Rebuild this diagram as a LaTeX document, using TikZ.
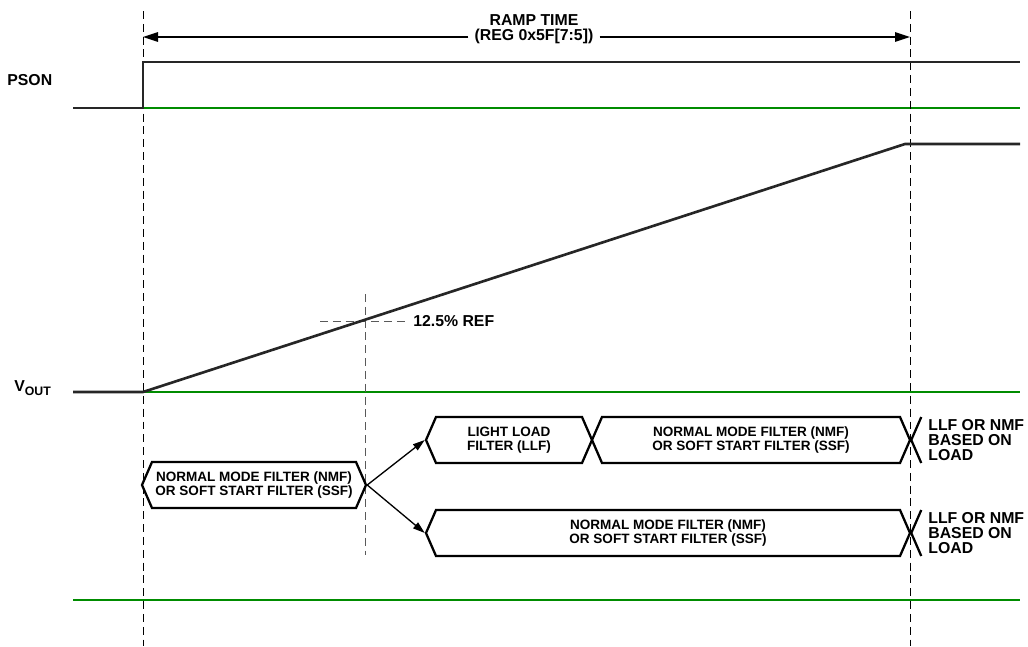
\documentclass[tikz,border=0pt]{standalone}
\usepackage{fontspec}
\setmainfont{Liberation Sans}
\usetikzlibrary{arrows.meta,shapes.symbols}

\begin{document}
\begin{tikzpicture}[x=0.2mm, y=-0.2mm,
  every node/.style={font=\bfseries\fontsize{9}{8.6}\selectfont},
  wave/.style={line width=1.5pt, black!85},
  base/.style={line width=0.6pt, green!55!black},
  guide/.style={dash pattern=on 4.5pt off 2.8pt, line width=0.55pt},
  filt/.style={signal, signal to=west and east, signal pointer angle=133, draw, line width=1.3pt, minimum height=9.2mm, inner sep=0pt, align=center, font=\bfseries\fontsize{7.7}{8.2}\selectfont},
  rarr/.style={-{Triangle[length=3mm,width=1.9mm]}, line width=0.8pt},
  tarr/.style={-{Triangle[length=2.4mm,width=1.5mm]}, line width=0.75pt}]
\useasboundingbox (0,0) rectangle (1028,646);

\draw[base] (73,108) -- (1020,108);
\draw[base] (73,392) -- (1020,392);
\draw[base] (73,600) -- (1020,600);

\draw[guide] (143,11) -- (143,646);
\draw[guide] (910,11) -- (910,646);
\draw[guide, black!65] (365,294) -- (365,555);
\draw[guide, black!65] (320,321) -- (407,321);

\draw[wave] (73,108) -- (143,108) -- (143,62) -- (1020,62);
\draw[wave] (73,392) -- (143,392) -- (905,144) -- (1020,144);

\node[anchor=west, inner xsep=0pt] (P) at (7,80) {PSON};
\node[anchor=west, inner xsep=0pt] (V) at (14,388) {V\raisebox{-2pt}{\fontsize{7}{7}\selectfont OUT}};
\node[anchor=west, inner xsep=0pt] (T) at (413,321) {12.5\% REF};

\node[align=center, inner xsep=3.4pt] (R) at (534,29) {RAMP TIME\\(REG 0x5F[7:5])};
\coordinate (AL) at (143,37);
\coordinate (AR) at (910,37);
\draw[rarr] (R.west |- AL) -- (AL);
\draw[rarr] (R.east |- AR) -- (AR);

\node[filt, minimum width=44.8mm] (S) at (254,485) {NORMAL MODE FILTER (NMF)\\OR SOFT START FILTER (SSF)};
\node[filt, minimum width=33.2mm] (L) at (509,440) {LIGHT LOAD\\FILTER (LLF)};
\node[filt, minimum width=63.6mm] (N) at (751,440) {NORMAL MODE FILTER (NMF)\\OR SOFT START FILTER (SSF)};
\node[filt, minimum width=96.8mm] (M) at (668,533) {NORMAL MODE FILTER (NMF)\\OR SOFT START FILTER (SSF)};

\draw[line width=1.3pt] (N.east) -- ++(10,-23);
\draw[line width=1.3pt] (N.east) -- ++(10,23);
\draw[line width=1.3pt] (M.east) -- ++(10,-23);
\draw[line width=1.3pt] (M.east) -- ++(10,23);

\node[anchor=west, align=left, inner xsep=0pt] (B) at (928,440) {LLF OR NMF\\BASED ON\\LOAD};
\node[anchor=west, align=left, inner xsep=0pt] (C) at (928,533) {LLF OR NMF\\BASED ON\\LOAD};

\draw[tarr] (S.east) -- (L.west);
\draw[tarr] (S.east) -- (M.west);
\end{tikzpicture}
\end{document}
